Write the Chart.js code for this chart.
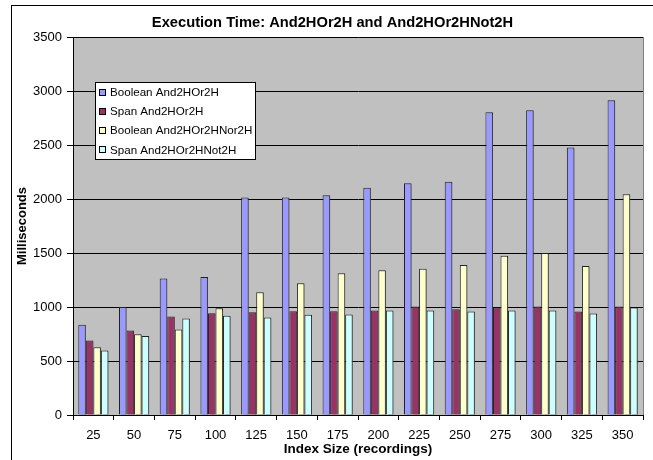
<!DOCTYPE html>
<html>
<head>
<meta charset="utf-8">
<script src="https://cdn.jsdelivr.net/npm/chart.js@4.4.1/dist/chart.umd.min.js"></script>
<style>
  html, body { margin: 0; padding: 0; background: #fff; }
  #wrap { width: 653px; height: 460px; position: relative; }
</style>
</head>
<body>
<div id="wrap"><canvas id="chart" width="653" height="460"></canvas></div>
<script>
const indexSizes = ['25', '50', '75', '100', '125', '150', '175', '200', '225', '250', '275', '300', '325', '350'];
const booleanAndOr = [835, 1000, 1265, 1278, 2015, 2015, 2034, 2105, 2145, 2160, 2803, 2821, 2478, 2914];
const spanAndOr = [690, 782, 911, 942, 951, 960, 960, 967, 1004, 979, 995, 1004, 958, 1004];
const booleanNor = [628, 748, 791, 988, 1136, 1219, 1312, 1340, 1355, 1389, 1475, 1500, 1380, 2043];
const spanNot = [597, 732, 893, 920, 902, 928, 930, 967, 967, 958, 967, 967, 940, 995];

const chartTitle = 'Execution Time: And2HOr2H and And2HOr2HNot2H';
const xTitle = 'Index Size (recordings)';

const FONT = 'Arial, "Liberation Sans", sans-serif';

// gray plot area, outer frame, right border of plot
const backdrop = {
  id: 'backdrop',
  beforeDraw(chart) {
    const { ctx, chartArea: a } = chart;
    ctx.save();
    ctx.strokeStyle = '#000';
    ctx.lineWidth = 1;
    ctx.strokeRect(11.5, 5.5, 800, 600);
    ctx.fillStyle = '#c0c0c0';
    ctx.fillRect(a.left, a.top, a.right - a.left, a.bottom - a.top);
    ctx.strokeStyle = '#808080';
    ctx.beginPath();
    ctx.moveTo(a.right + 0.5, a.top);
    ctx.lineTo(a.right + 0.5, a.bottom);
    ctx.stroke();
    ctx.restore();
  }
};

// excel-ish drop shadow on the bars
const barShadow = {
  id: 'barShadow',
  beforeDatasetsDraw(chart) {
    const ctx = chart.ctx;
    ctx.save();
    ctx.shadowColor = 'rgba(80,80,80,0.6)';
    ctx.shadowOffsetX = 2;
    ctx.shadowOffsetY = 1;
    ctx.shadowBlur = 0;
  },
  afterDatasetsDraw(chart) {
    chart.ctx.restore();
  }
};

// boxed legend inside the plot, chart title, x axis title
const boxLegend = {
  id: 'boxLegend',
  afterDraw(chart) {
    const ctx = chart.ctx;
    const a = chart.chartArea;
    const x = 95, y = 82, w = 160, h = 77;
    ctx.save();
    ctx.fillStyle = '#fff';
    ctx.fillRect(x, y, w, h);
    ctx.strokeStyle = '#000';
    ctx.lineWidth = 1;
    ctx.strokeRect(x + 0.5, y + 0.5, w, h);
    ctx.font = '11.6px ' + FONT;
    ctx.textBaseline = 'middle';
    chart.data.datasets.forEach((ds, i) => {
      const cy = y + 10.5 + i * 19.3;
      ctx.fillStyle = ds.backgroundColor;
      ctx.fillRect(x + 4, Math.round(cy - 4), 7, 7);
      ctx.strokeStyle = '#000';
      ctx.strokeRect(x + 4.5, Math.round(cy - 4) + 0.5, 6, 6);
      ctx.fillStyle = '#000';
      ctx.fillText(ds.label, x + 15, cy);
    });
    ctx.textAlign = 'center';
    ctx.font = 'bold 13.5px ' + FONT;
    ctx.fillText(xTitle, (a.left + a.right) / 2, 449);
    ctx.font = 'bold 14.7px ' + FONT;
    ctx.textBaseline = 'alphabetic';
    ctx.fillText(chartTitle, 332.5, 27);
    ctx.restore();
  }
};

const ctx = document.getElementById('chart').getContext('2d');
new Chart(ctx, {
  type: 'bar',
  data: {
    labels: indexSizes,
    datasets: [
      { label: 'Boolean And2HOr2H', data: booleanAndOr, backgroundColor: '#9999ff' },
      { label: 'Span And2HOr2H', data: spanAndOr, backgroundColor: '#993366' },
      { label: 'Boolean And2HOr2HNor2H', data: booleanNor, backgroundColor: '#ffffcc' },
      { label: 'Span And2HOr2HNot2H', data: spanNot, backgroundColor: '#ccffff' }
    ]
  },
  options: {
    responsive: false,
    animation: false,
    devicePixelRatio: 1,
    categoryPercentage: 0.74,
    barPercentage: 1.0,
    datasets: {
      bar: { borderColor: '#222', borderWidth: 1, borderSkipped: 'bottom' }
    },
    layout: { padding: { left: 11, top: 37, right: 10, bottom: 0 } },
    scales: {
      x: {
        grid: { offset: true, drawOnChartArea: false, drawTicks: true, tickLength: 5, color: '#000' },
        border: { color: '#000' },
        ticks: { color: '#000', font: { family: FONT, size: 13 }, padding: 8, maxRotation: 0, autoSkip: false },
        afterFit(scale) { scale.height = 45; }
      },
      y: {
        min: 0,
        max: 3500,
        ticks: {
          stepSize: 500, color: '#000', font: { family: FONT, size: 13 }, padding: 5,
          callback: (v) => String(v)
        },
        grid: { color: '#000', tickLength: 6 },
        border: { color: '#000' },
        title: { display: true, text: 'Milliseconds', color: '#000', font: { family: FONT, size: 13, weight: 'bold' }, padding: { top: 4, bottom: 0 } },
        afterFit(scale) { scale.width = 62; }
      }
    },
    plugins: {
      legend: { display: false },
      tooltip: { enabled: false },
      title: { display: false }
    }
  },
  plugins: [backdrop, barShadow, boxLegend]
});
</script>
</body>
</html>
